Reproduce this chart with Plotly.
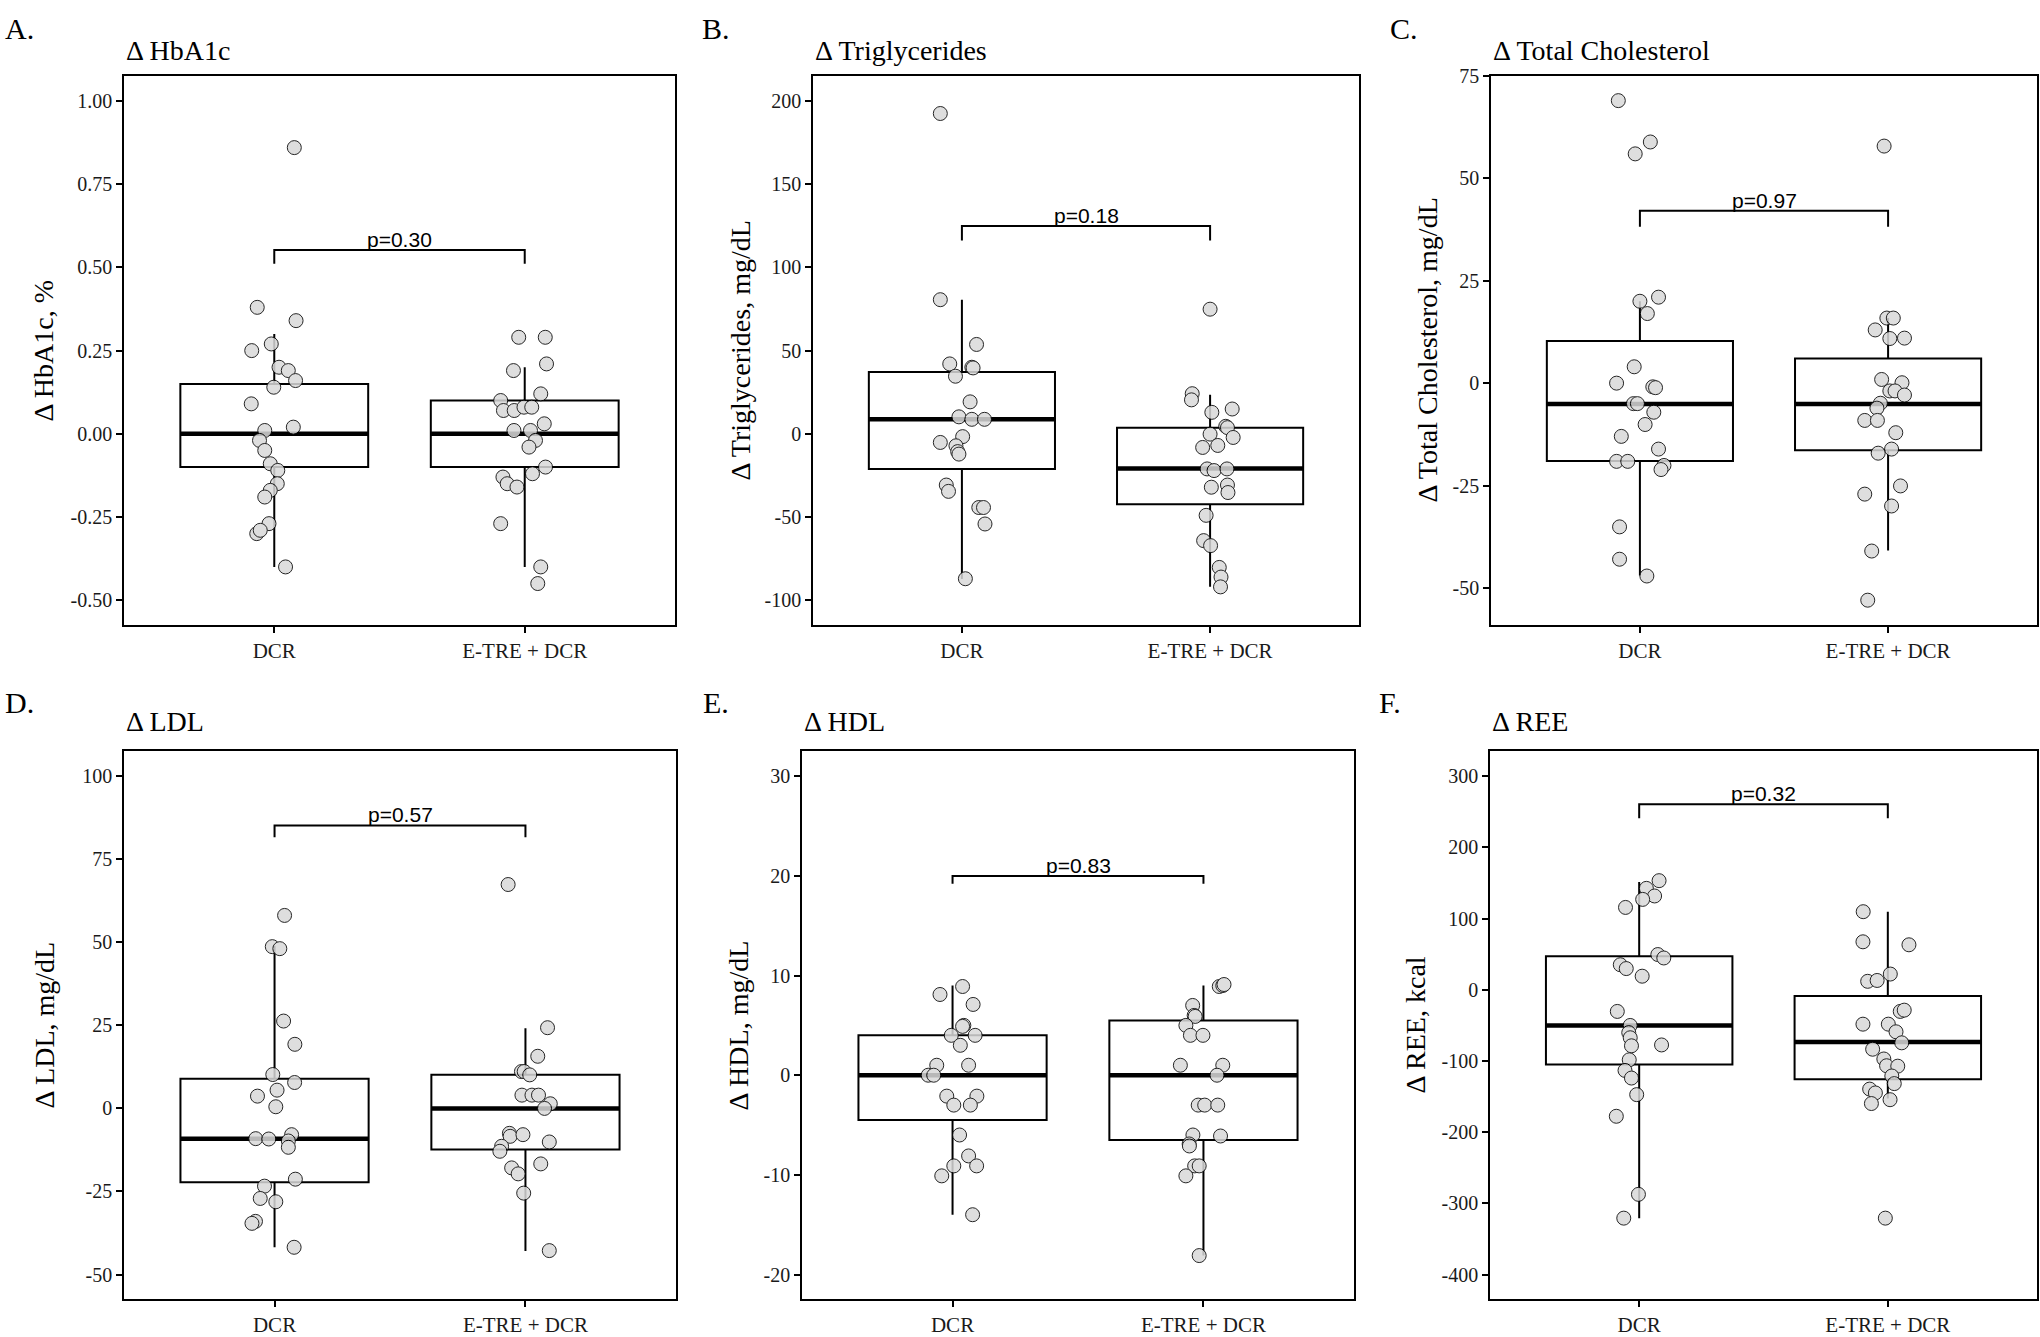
import plotly.graph_objects as go

W, H = 2040, 1337
categories = ["DCR", "E-TRE + DCR"]
cat_pos = [1, 2]

panel_letters = ["A.", "B.", "C.", "D.", "E.", "F."]
panel_titles = ["Δ HbA1c", "Δ Triglycerides", "Δ Total Cholesterol", "Δ LDL", "Δ HDL", "Δ REE"]
y_titles = ["Δ HbA1c, %", "Δ Triglycerides, mg/dL", "Δ Total Cholesterol, mg/dL",
            "Δ LDL, mg/dL", "Δ HDL, mg/dL", "Δ REE, kcal"]
p_labels = ["p=0.30", "p=0.18", "p=0.97", "p=0.57", "p=0.83", "p=0.32"]
bracket_top = [0.552, 124.9, 42.1, 85.2, 20.0, 260.6]
bracket_tip = [0.511, 116.2, 38.2, 81.6, 19.2, 240.9]

y_ranges = [[-0.575, 1.075], [-115, 215], [-59.1, 75], [-57.5, 107.5], [-22.5, 32.5], [-435, 335]]
y_tickvals = [
    [-0.5, -0.25, 0, 0.25, 0.5, 0.75, 1.0],
    [-100, -50, 0, 50, 100, 150, 200],
    [-50, -25, 0, 25, 50, 75],
    [-50, -25, 0, 25, 50, 75, 100],
    [-20, -10, 0, 10, 20, 30],
    [-400, -300, -200, -100, 0, 100, 200, 300],
]
y_ticktext = [
    ["-0.50", "-0.25", "0.00", "0.25", "0.50", "0.75", "1.00"],
    ["-100", "-50", "0", "50", "100", "150", "200"],
    ["-50", "-25", "0", "25", "50", "75"],
    ["-50", "-25", "0", "25", "50", "75", "100"],
    ["-20", "-10", "0", "10", "20", "30"],
    ["-400", "-300", "-200", "-100", "0", "100", "200", "300"],
]

# box statistics [DCR, E-TRE + DCR]: lower whisker, q1, median, q3, upper whisker
box_low = [[-0.40, -0.40], [-87.3, -92.0], [-47.0, -40.9], [-41.8, -42.9], [-14.0, -18.1], [-320.8, -152.7]]
box_q1 = [[-0.10, -0.10], [-21.1, -42.3], [-19.0, -16.4], [-22.2, -12.4], [-4.5, -6.5], [-105.0, -125.8]]
box_med = [[0.00, 0.00], [8.7, -20.9], [-5.1, -5.1], [-9.1, 0.0], [0.0, 0.0], [-50.1, -73.3]]
box_q3 = [[0.15, 0.10], [37.1, 3.7], [10.3, 6.0], [8.9, 10.1], [4.0, 5.5], [47.1, -8.9]]
box_high = [[0.30, 0.20], [80.6, 23.4], [20.0, 15.9], [49.0, 24.1], [9.0, 9.0], [151.5, 109.7]]

# ---- individual points (value, horizontal jitter) ----
hba1c_dcr = [0.86, 0.38, 0.34, 0.27, 0.25, 0.20, 0.19, 0.16, 0.14, 0.09, 0.01, 0.02, -0.02, -0.05,
             -0.09, -0.11, -0.15, -0.17, -0.19, -0.27, -0.30, -0.29, -0.40]
hba1c_dcr_jit = [0.080, -0.068, 0.087, -0.012, -0.090, 0.019, 0.056, 0.085, -0.002, -0.092, -0.038, 0.076,
                 -0.059, -0.038, -0.016, 0.014, 0.012, -0.016, -0.038, -0.021, -0.070, -0.056, 0.045]
hba1c_tre = [0.29, 0.29, 0.21, 0.19, 0.12, 0.10, 0.07, 0.07, 0.08, 0.08, 0.03, 0.01, 0.01, -0.02, -0.04,
             -0.10, -0.12, -0.13, -0.15, -0.16, -0.27, -0.40, -0.45]
hba1c_tre_jit = [-0.024, 0.082, 0.087, -0.045, 0.064, -0.096, -0.085, -0.042, -0.003, 0.028, 0.078, -0.043,
                 0.023, 0.043, 0.017, 0.083, 0.031, -0.087, -0.070, -0.031, -0.096, 0.064, 0.052]

tg_dcr = [192.5, 80.6, 53.7, 42.0, 40.0, 39.6, 34.6, 19.2, 10.2, 8.7, 8.7, -1.7, -5.2, -7.2, -10.7, -12.2,
          -30.8, -34.6, -44.3, -44.3, -54.2, -87.1]
tg_dcr_jit = [-0.087, -0.087, 0.059, -0.049, 0.040, 0.045, -0.026, 0.033, -0.012, 0.040, 0.091, 0.003,
              -0.087, -0.024, -0.017, -0.012, -0.063, -0.054, 0.068, 0.087, 0.093, 0.014]
tg_tre = [74.9, 24.1, 20.4, 12.9, 14.9, 4.5, 3.7, -0.2, -2.2, -8.2, -7.0, -21.1, -22.1, -21.1, -32.1,
          -30.8, -35.3, -49.0, -64.2, -67.2, -80.3, -86.1, -92.0]
tg_tre_jit = [0.000, -0.072, -0.075, 0.007, 0.089, 0.063, 0.070, 0.000, 0.093, -0.030, 0.031, -0.012,
              0.016, 0.068, 0.005, 0.070, 0.072, -0.016, -0.026, 0.002, 0.037, 0.044, 0.042]

tc_dcr = [69.0, 58.9, 56.0, 21.0, 20.0, 17.0, 4.0, 0.0, -0.9, -1.1, -5.0, -5.0, -7.1, -10.1, -13.0,
          -16.1, -19.1, -19.1, -20.1, -21.1, -35.1, -43.0, -47.1]
tc_dcr_jit = [-0.087, 0.042, -0.019, 0.075, 0.000, 0.030, -0.023, -0.094, 0.052, 0.063, -0.026, -0.010,
              0.056, 0.021, -0.075, 0.075, -0.094, -0.049, 0.097, 0.085, -0.082, -0.082, 0.028]
tc_tre = [57.9, 13.0, 15.9, 15.9, 10.9, 11.0, 0.9, 0.1, -1.9, -1.9, -2.9, -4.9, -6.1, -9.1, -9.1,
          -12.1, -16.1, -17.1, -25.1, -27.1, -30.0, -41.0, -53.0]
tc_tre_jit = [-0.016, -0.052, -0.005, 0.021, 0.007, 0.066, -0.026, 0.056, 0.007, 0.028, 0.066, -0.031,
              -0.045, -0.094, -0.043, 0.031, 0.014, -0.040, 0.050, -0.094, 0.014, -0.066, -0.082]

ldl_dcr = [58.1, 48.7, 48.1, 26.3, 19.3, 10.2, 7.8, 5.5, 3.7, 0.5, -9.1, -9.2, -7.9, -9.8, -11.7,
           -21.3, -23.4, -27.1, -28.1, -34.0, -34.6, -41.8]
ldl_dcr_jit = [0.040, -0.009, 0.021, 0.036, 0.081, -0.007, 0.080, 0.010, -0.068, 0.005, -0.075, -0.023,
               0.068, 0.055, 0.055, 0.083, -0.040, -0.057, 0.005, -0.076, -0.090, 0.078]
ldl_tre = [67.4, 24.3, 15.7, 11.1, 11.1, 10.1, 4.0, 4.0, 4.0, 1.4, 0.0, -7.5, -8.4, -7.9, -10.1,
           -11.4, -12.9, -16.7, -17.9, -19.7, -25.5, -42.8]
ldl_tre_jit = [-0.069, 0.088, 0.049, -0.016, -0.005, 0.017, -0.014, 0.026, 0.052, 0.099, 0.076, -0.064,
               -0.061, -0.010, 0.095, -0.095, -0.102, 0.061, -0.055, -0.029, -0.007, 0.095]

hdl_dcr = [8.9, 8.1, 7.1, 5.0, 4.9, 4.0, 4.0, 3.0, 1.0, 1.0, 0.0, 0.0, -2.1, -2.1, -3.0, -3.0, -6.0,
           -8.1, -9.1, -9.1, -10.1, -14.0]
hdl_dcr_jit = [0.040, -0.050, 0.082, 0.045, 0.040, -0.005, 0.090, 0.031, -0.063, 0.064, -0.097, -0.075,
               -0.023, 0.097, 0.005, 0.071, 0.028, 0.064, 0.005, 0.096, -0.043, 0.080]
hdl_tre = [8.9, 9.0, 9.1, 7.0, 6.0, 5.9, 5.0, 4.0, 4.0, 1.0, 1.0, 0.0, -3.0, -3.0, -3.0, -6.0, -6.1,
           -6.9, -7.1, -9.1, -9.1, -10.1, -18.1]
hdl_tre_jit = [0.063, 0.077, 0.082, -0.043, -0.037, -0.033, -0.070, -0.052, -0.002, -0.092, 0.077, 0.054,
               -0.021, 0.005, 0.057, -0.042, 0.068, -0.057, -0.056, -0.035, -0.017, -0.070, -0.017]

ree_dcr = [153.3, 142.5, 131.8, 127.0, 115.7, 49.5, 44.7, 35.2, 29.8, 19.1, -30.4, -50.1, -60.2, -67.4,
           -78.7, -77.5, -98.4, -113.3, -124.0, -147.3, -177.7, -287.4, -320.8]
ree_dcr_jit = [0.080, 0.029, 0.062, 0.014, -0.055, 0.075, 0.099, -0.076, -0.052, 0.012, -0.088, -0.036,
               -0.042, -0.036, -0.031, 0.090, -0.040, -0.057, -0.031, -0.010, -0.092, -0.003, -0.062]
ree_tre = [109.7, 67.4, 63.2, 22.1, 11.9, 13.1, -30.4, -28.6, -48.3, -48.3, -59.0, -74.5, -83.5, -97.2,
           -106.7, -107.3, -121.1, -131.8, -139.5, -144.9, -154.4, -159.8, -320.8]
ree_tre_jit = [-0.099, -0.100, 0.085, 0.010, -0.081, -0.043, 0.050, 0.066, -0.100, 0.002, 0.033, 0.056,
               -0.061, -0.016, -0.005, 0.040, 0.016, 0.026, -0.073, -0.050, 0.009, -0.066, -0.010]

points = [
    [(hba1c_dcr, hba1c_dcr_jit), (hba1c_tre, hba1c_tre_jit)],
    [(tg_dcr, tg_dcr_jit), (tg_tre, tg_tre_jit)],
    [(tc_dcr, tc_dcr_jit), (tc_tre, tc_tre_jit)],
    [(ldl_dcr, ldl_dcr_jit), (ldl_tre, ldl_tre_jit)],
    [(hdl_dcr, hdl_dcr_jit), (hdl_tre, hdl_tre_jit)],
    [(ree_dcr, ree_dcr_jit), (ree_tre, ree_tre_jit)],
]

# ---- layout geometry (pixels of the 2040x1337 canvas) ----
frames_x = [(124, 675), (813, 1359), (1491, 2037), (124, 676), (802, 1354), (1490, 2037)]
frames_y = [(66, 623)] * 3 + [(751, 1307)] * 3
letter_x = [3, 700, 1388, 3, 701, 1377]
letter_y = [18, 18, 18, 701, 701, 701]
subtitle_y = [40, 40, 40, 721, 721, 721]
ytitle_x = [44, 741, 1428, 44, 738, 1415]

BOX_W = 0.75
SERIF = "Liberation Serif, Times New Roman, serif"
SANS = "Liberation Sans, Arial, sans-serif"
TXT = "#1a1a1a"

def px(xp):
    return xp / W

def py(yp):
    return 1 - yp / H

fig = go.Figure()
layout = dict(width=W, height=H, margin=dict(l=0, r=0, t=0, b=0),
              paper_bgcolor="white", plot_bgcolor="white", showlegend=False)
annotations = []
shapes = []

for i in range(6):
    n = i + 1
    xa = "x" if n == 1 else f"x{n}"
    ya = "y" if n == 1 else f"y{n}"
    xkey = "xaxis" if n == 1 else f"xaxis{n}"
    ykey = "yaxis" if n == 1 else f"yaxis{n}"
    x0, x1 = frames_x[i]
    y0, y1 = frames_y[i]
    layout[xkey] = dict(domain=[px(x0), px(x1)], anchor=ya, range=[0.4, 2.6],
                        tickvals=cat_pos, ticktext=categories, showgrid=False, zeroline=False,
                        showline=True, mirror=True, linecolor="black", linewidth=1.5,
                        ticks="outside", ticklen=6, tickwidth=1.5, tickcolor="black",
                        tickfont=dict(family=SERIF, size=21, color=TXT), fixedrange=True)
    layout[ykey] = dict(domain=[py(y1), py(y0)], anchor=xa, range=y_ranges[i],
                        tickvals=y_tickvals[i], ticktext=y_ticktext[i], showgrid=False, zeroline=False,
                        showline=True, mirror=True, linecolor="black", linewidth=1.5,
                        ticks="outside", ticklen=6, tickwidth=1.5, tickcolor="black",
                        tickfont=dict(family=SERIF, size=20, color=TXT), fixedrange=True)

    for g in range(2):
        fig.add_trace(go.Box(
            x=[cat_pos[g]], q1=[box_q1[i][g]], median=[box_med[i][g]], q3=[box_q3[i][g]],
            lowerfence=[box_low[i][g]], upperfence=[box_high[i][g]],
            width=BOX_W, fillcolor="white", line=dict(color="black", width=2),
            whiskerwidth=0, boxpoints=False, hoverinfo="skip", xaxis=xa, yaxis=ya))
        fig.add_trace(go.Scatter(
            x=[cat_pos[g] - BOX_W / 2, cat_pos[g] + BOX_W / 2], y=[box_med[i][g], box_med[i][g]],
            mode="lines", line=dict(color="black", width=4.5), hoverinfo="skip", xaxis=xa, yaxis=ya))
    for g in range(2):
        vals, jit = points[i][g]
        fig.add_trace(go.Scatter(
            x=[cat_pos[g] + j for j in jit], y=vals, mode="markers",
            marker=dict(size=14, color="#d9d9d9", line=dict(color="black", width=1)),
            opacity=0.85, hoverinfo="skip", xaxis=xa, yaxis=ya))

    # significance bracket
    shapes.append(dict(type="path", xref=xa, yref=ya,
                       path=f"M {cat_pos[0]},{bracket_tip[i]} L {cat_pos[0]},{bracket_top[i]} "
                            f"L {cat_pos[1]},{bracket_top[i]} L {cat_pos[1]},{bracket_tip[i]}",
                       line=dict(color="black", width=2)))
    annotations.append(dict(x=(cat_pos[0] + cat_pos[1]) / 2, y=bracket_top[i], xref=xa, yref=ya,
                            text=p_labels[i], showarrow=False, xanchor="center", yanchor="bottom",
                            yshift=-3, font=dict(family=SANS, size=21, color="black")))
    # panel letter
    annotations.append(dict(x=px(letter_x[i]), y=py(letter_y[i]), xref="paper", yref="paper",
                            text=panel_letters[i], showarrow=False, xanchor="left", yanchor="middle",
                            font=dict(family=SERIF, size=30, color="black")))
    # panel subtitle
    annotations.append(dict(x=px(x0), y=py(subtitle_y[i]), xref="paper", yref="paper",
                            text=panel_titles[i], showarrow=False, xanchor="left", yanchor="middle",
                            font=dict(family=SERIF, size=28, color="black")))
    # y axis title
    annotations.append(dict(x=px(ytitle_x[i]), y=py((y0 + y1) / 2), xref="paper", yref="paper",
                            text=y_titles[i], showarrow=False, textangle=-90,
                            xanchor="center", yanchor="middle",
                            font=dict(family=SERIF, size=28, color="black")))

layout["annotations"] = annotations
layout["shapes"] = shapes
fig.update_layout(**layout)
fig.write_html("out.html", config={"displayModeBar": False},
               post_script="document.body.style.margin='0px';")
